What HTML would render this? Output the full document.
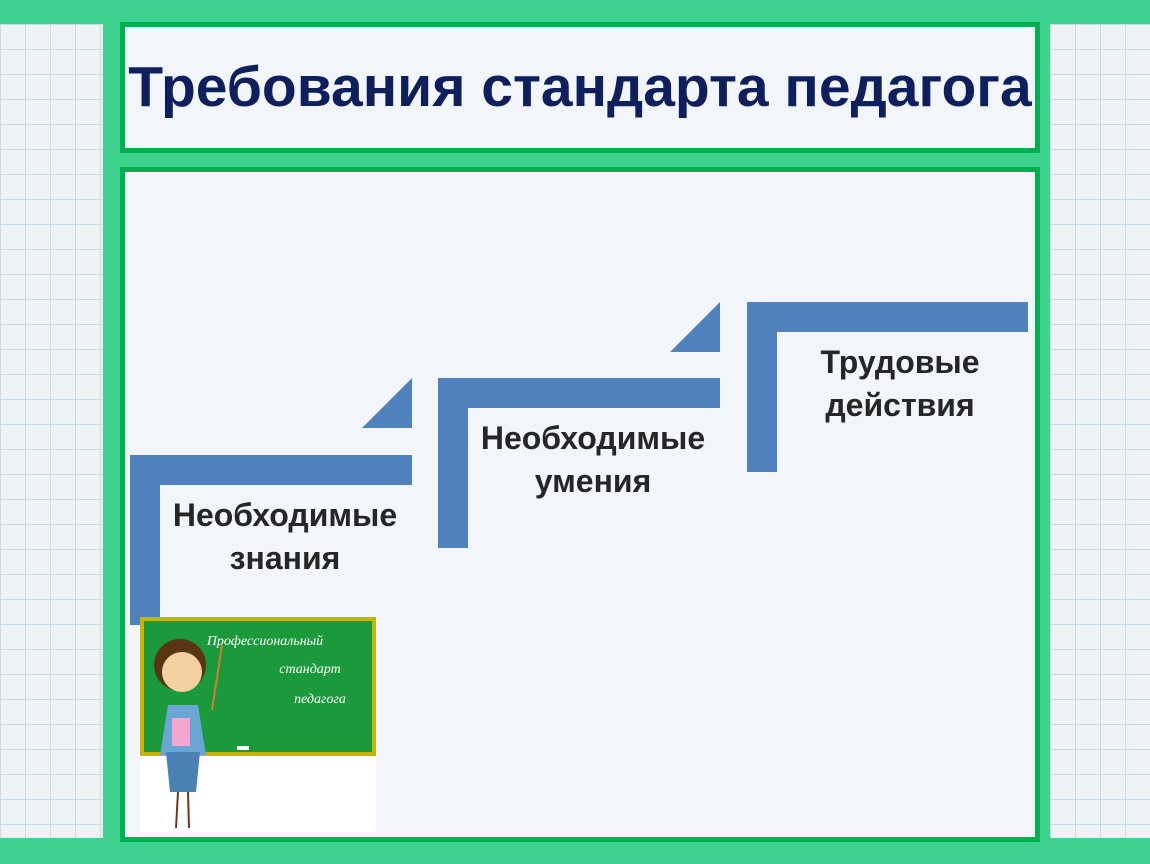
<!DOCTYPE html>
<html><head><meta charset="utf-8"><style>
body{margin:0;width:1150px;height:864px;background:#3dd28e;position:relative;overflow:hidden;font-family:"Liberation Sans",sans-serif}
.side{position:absolute;top:24px;height:814px;background-color:#eef3f6;background-image:linear-gradient(#c9dbe6 1px,transparent 1px),linear-gradient(90deg,#c9dbe6 1px,transparent 1px);background-size:25px 25px}
.box{position:absolute;box-sizing:border-box;border:5px solid #00b050;background:#f2f6fa}
.t{position:absolute;font-weight:bold;font-size:32px;color:#262626;text-align:center;line-height:43px}
</style></head><body>
<div class="side" style="left:0;width:103px"></div>
<div class="side" style="left:1050px;width:100px"></div>
<div class="box" style="left:120px;top:22px;width:920px;height:131px"></div>
<div style="position:absolute;left:120px;top:54px;width:920px;text-align:center;font-weight:bold;font-size:57px;color:#0d1f5c;white-space:nowrap">Требования стандарта педагога</div>
<div class="box" style="left:120px;top:167px;width:920px;height:675px"></div>
<svg style="position:absolute;left:0;top:0" width="1150" height="864">
<g fill="#4f81bd">
<rect x="130" y="455" width="282" height="30"/><rect x="130" y="455" width="30" height="170"/>
<polygon points="362,428 412,378 412,428"/>
<rect x="438" y="378" width="282" height="30"/><rect x="438" y="378" width="30" height="170"/>
<polygon points="670,352 720,302 720,352"/>
<rect x="747" y="302" width="281" height="30"/><rect x="747" y="302" width="30" height="170"/>
</g>
<rect x="140" y="617" width="236" height="215" fill="#fff"/>
<rect x="142" y="619" width="232" height="135" fill="#1a9a3a" stroke="#c8b400" stroke-width="4"/>
<text x="265" y="645" fill="#fff" font-size="14" font-style="italic" text-anchor="middle" font-family="Liberation Serif">Профессиональный</text>
<text x="310" y="673" fill="#fff" font-size="14" font-style="italic" text-anchor="middle" font-family="Liberation Serif">стандарт</text>
<text x="320" y="703" fill="#fff" font-size="14" font-style="italic" text-anchor="middle" font-family="Liberation Serif">педагога</text>
<line x1="222" y1="645" x2="212" y2="710" stroke="#e07a30" stroke-width="2"/>
<circle cx="180" cy="665" r="26" fill="#5a3414"/>
<circle cx="182" cy="672" r="20" fill="#f5d0a0"/>
<path d="M168 705 h30 l8 50 h-46z" fill="#6aa6d4"/>
<rect x="172" y="718" width="18" height="28" fill="#f4a6d0"/>
<path d="M166 752 h34 l-4 40 h-26z" fill="#4a82b4"/>
<line x1="178" y1="792" x2="176" y2="828" stroke="#6b3a1a" stroke-width="2"/>
<line x1="188" y1="792" x2="189" y2="828" stroke="#6b3a1a" stroke-width="2"/>
<rect x="237" y="746" width="12" height="4" fill="#fff"/>
</svg>
<div class="t" style="left:135px;top:494px;width:300px">Необходимые<br>знания</div>
<div class="t" style="left:443px;top:417px;width:300px">Необходимые<br>умения</div>
<div class="t" style="left:750px;top:341px;width:300px">Трудовые<br>действия</div>
</body></html>
